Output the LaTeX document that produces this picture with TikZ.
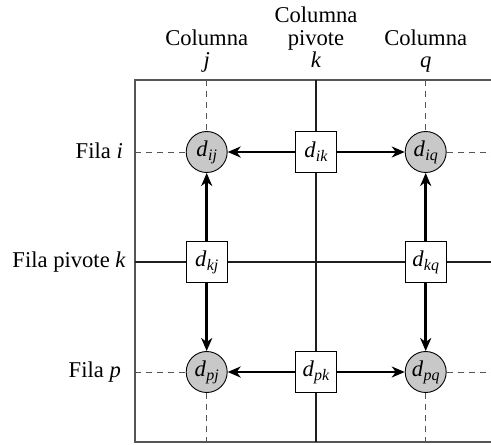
\documentclass[tikz,border=0pt]{standalone}
\usepackage{fontspec}
\setmainfont{Liberation Serif}
\usetikzlibrary{arrows.meta}
\newcommand\dd[1]{\textit{d}\kern0.3pt\raisebox{-0.4ex}{\fontsize{16}{16}\selectfont\textit{#1}}}
\definecolor{framegray}{RGB}{85,85,85}
\definecolor{pivotgray}{RGB}{30,30,30}
\definecolor{cellgray}{RGB}{200,200,200}
\begin{document}
\begin{tikzpicture}[x=1pt,y=-1pt,
  font=\fontsize{22.6}{22.6}\selectfont,
  circ/.style={circle,draw=black,line width=0.9pt,fill=cellgray,minimum size=41pt,inner sep=0pt},
  sq/.style={rectangle,draw=black,line width=0.9pt,fill=white,minimum size=41pt,inner sep=0pt},
  framel/.style={draw=framegray,line width=1.5pt},
  pivot/.style={draw=pivotgray,line width=2.6pt},
  dashl/.style={draw=framegray,line width=0.9pt,dash pattern=on 6pt off 5pt},
  arr/.style={draw=black,line width=2.6pt,-{Stealth[length=13pt,width=11pt,inset=4pt]}},
  lab/.style={anchor=base,inner sep=0pt},
  rowlab/.style={anchor=base east,inner sep=0pt}]
\useasboundingbox (0,0) rectangle (491,445);
% coordinates
\coordinate (tl) at (135,80);
\coordinate (tr) at (495,80);
\coordinate (bl) at (135,442);
\coordinate (br) at (495,442);
\coordinate (jtop) at (206.7,80);
\coordinate (jbot) at (206.7,442);
\coordinate (ktop) at (316,80);
\coordinate (kbot) at (316,442);
\coordinate (qtop) at (425.7,80);
\coordinate (qbot) at (425.7,442);
\coordinate (ileft) at (135,152);
\coordinate (iright) at (495,152);
\coordinate (kleft) at (135,262);
\coordinate (kright) at (495,262);
\coordinate (pleft) at (135,372);
\coordinate (pright) at (495,372);
% nodes
\node[circ] (ij) at (206.7,152) {\dd{ij}};
\node[sq]   (ik) at (316,152)   {\dd{ik}};
\node[circ] (iq) at (425.7,152) {\dd{iq}};
\node[sq]   (kj) at (206.7,262) {\dd{kj}};
\node[sq]   (kq) at (425.7,262) {\dd{kq}};
\node[circ] (pj) at (206.7,372) {\dd{pj}};
\node[sq]   (pk) at (316,372)   {\dd{pk}};
\node[circ] (pq) at (425.7,372) {\dd{pq}};
% frame
\draw[framel] (tr) -- (tl) -- (bl) -- (br);
% pivot lines
\draw[pivot] (ktop) -- (ik);
\draw[pivot] (ik) -- (pk);
\draw[pivot] (pk) -- (kbot);
\draw[pivot] (kleft) -- (kj);
\draw[pivot] (kj) -- (kq);
\draw[pivot] (kq) -- (kright);
% dashed lines
\draw[dashl] (jtop) -- (ij);
\draw[dashl] (pj) -- (jbot);
\draw[dashl] (qtop) -- (iq);
\draw[dashl] (pq) -- (qbot);
\draw[dashl] (ileft) -- (ij);
\draw[dashl] (iq) -- (iright);
\draw[dashl] (pleft) -- (pj);
\draw[dashl] (pq) -- (pright);
% arrows
\draw[arr] (ik) -- (ij);
\draw[arr] (ik) -- (iq);
\draw[arr] (pk) -- (pj);
\draw[arr] (pk) -- (pq);
\draw[arr] (kj) -- (ij);
\draw[arr] (kj) -- (pj);
\draw[arr] (kq) -- (iq);
\draw[arr] (kq) -- (pq);
% column labels
\node[lab] (cj1) at (206.7,45) {Columna};
\node[lab] (cj2) at (206.7,67) {\textit{j}};
\node[lab] (ck0) at (316,22) {Columna};
\node[lab] (ck1) at (316,45) {pivote};
\node[lab] (ck2) at (316,67) {\textit{k}};
\node[lab] (cq1) at (425.7,45) {Columna};
\node[lab] (cq2) at (425.7,67) {\textit{q}};
% row labels
\node[rowlab] (ri) at (123,158) {Fila \textit{i}};
\node[rowlab] (rk) at (126,267.5) {Fila pivote \textit{k}};
\node[rowlab] (rp) at (121,377.5) {Fila \textit{p}};
\end{tikzpicture}
\end{document}
